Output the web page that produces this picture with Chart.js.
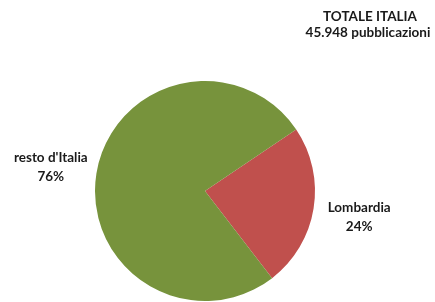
<!DOCTYPE html>
<html>
<head>
<meta charset="utf-8">
<script src="https://cdn.jsdelivr.net/npm/chart.js@4/dist/chart.umd.min.js"></script>
<style>
  html, body { margin: 0; padding: 0; background: #fff; }
  #pie { display: block; }
</style>
</head>
<body>
<canvas id="pie" width="435" height="302"></canvas>
<script>
// chart data
const categories = ["Lombardia", "resto d'Italia"];
const shares = [24, 76];
const sliceColors = ["#C0504D", "#77933C"];
const titleLines = ["TOTALE ITALIA", "45.948 pubblicazioni"];

const FONT = "bold 13.5px Lato, 'Open Sans', sans-serif";

// draws "name / pct%" outside each slice, and the total in the top right
const outsideLabels = {
    id: "outsideLabels",
    afterDraw(chart) {
        const ctx = chart.ctx;
        const arcs = chart.getDatasetMeta(0).data;
        ctx.save();
        ctx.font = FONT;
        ctx.fillStyle = "#1a1a1a";
        ctx.textAlign = "center";
        ctx.textBaseline = "middle";
        arcs.forEach((arc, i) => {
            const mid = (arc.startAngle + arc.endAngle) / 2;
            const r = arc.outerRadius * 1.42;
            const x = arc.x + Math.cos(mid) * r;
            const y = arc.y + Math.sin(mid) * r + 1;
            ctx.fillText(categories[i], x, y - 9);
            ctx.fillText(shares[i] + "%", x, y + 10);
        });
        ctx.fillText(titleLines[0], 370, 17);
        ctx.fillText(titleLines[1], 368, 33);
        ctx.restore();
    },
};

new Chart(document.getElementById("pie"), {
    type: "pie",
    data: {
        labels: categories,
        datasets: [{
            data: shares,
            backgroundColor: sliceColors,
            borderWidth: 0,
        }],
    },
    options: {
        responsive: false,
        animation: false,
        rotation: 56,
        layout: { padding: { top: 81, bottom: 1, left: 60, right: 85 } },
        plugins: {
            legend: { display: false },
            tooltip: { enabled: false },
        },
    },
    plugins: [outsideLabels],
});
</script>
</body>
</html>
